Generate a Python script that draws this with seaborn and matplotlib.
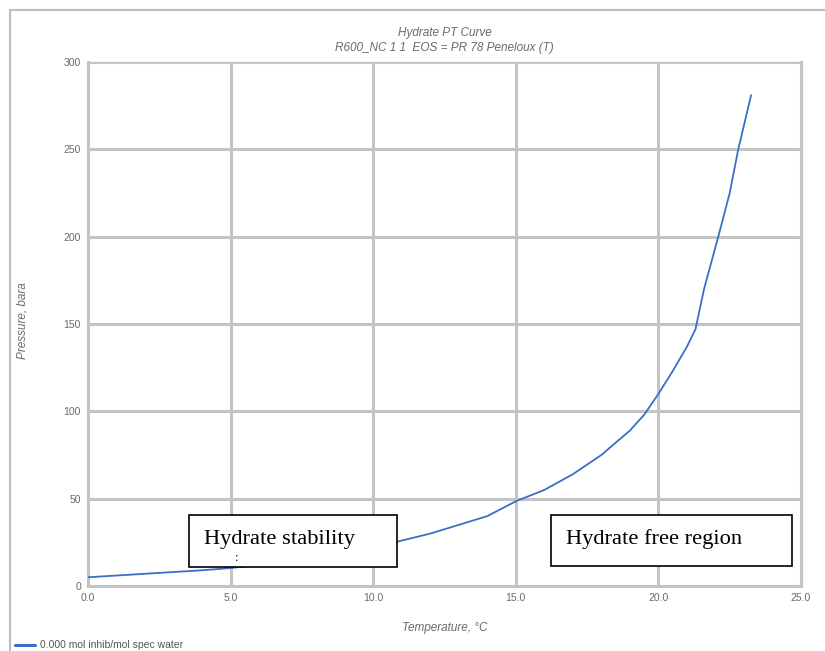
import numpy as np
import pandas as pd
import seaborn as sns
import matplotlib.pyplot as plt
from matplotlib.patches import Rectangle
from matplotlib.ticker import MultipleLocator

# hydrate curve
temperature = [0.0, 2.0, 4.0, 5.0, 6.0, 8.0, 10.0, 11.0, 12.0, 14.0, 15.0, 16.0, 17.0,
               18.0, 19.0, 19.5, 20.0, 20.5, 21.0, 21.3, 21.6, 22.1, 22.5, 22.8, 23.25]
pressure = [5.0, 7.0, 9.0, 10.3, 12.0, 16.0, 22.0, 26.0, 30.0, 40.0, 48.5, 55.0, 64.0,
            75.0, 89.0, 98.0, 110.0, 123.0, 137.0, 147.0, 170.0, 200.0, 225.0, 250.0, 281.0]
series_name = "0.000 mol inhib/mol spec water"

title_lines = ["Hydrate PT Curve", "R600_NC 1 1  EOS = PR 78 Peneloux (T)"]
x_label = "Temperature, \u00b0C"
y_label = "Pressure, bara"
region_labels = ["Hydrate stability", "Hydrate free region"]

df = pd.DataFrame({"T": temperature, "P": pressure, "series": series_name})

sns.set_style("white")
plt.rcParams["font.family"] = ["Liberation Sans", "DejaVu Sans"]

grey = "#c4c4c4"
text_grey = "#6a6a6a"

fig = plt.figure(figsize=(8.25, 6.51), dpi=100)
ax = fig.add_axes([88 / 825, 1 - 586 / 651, (801 - 88) / 825, (586 - 62) / 651])

sns.lineplot(data=df, x="T", y="P", color="#3b6fc6", linewidth=1.3, ax=ax,
             sort=False, legend=False, zorder=3)

ax.set_xlim(0, 25)
ax.set_ylim(0, 300)
ax.xaxis.set_major_locator(MultipleLocator(5))
ax.xaxis.set_minor_locator(MultipleLocator(0.5))
ax.yaxis.set_major_locator(MultipleLocator(50))
ax.yaxis.set_minor_locator(MultipleLocator(5))
ax.set_xticklabels([f"{v:.1f}" for v in ax.get_xticks()])
ax.set_yticklabels([f"{v:.0f}" for v in ax.get_yticks()])

ax.grid(True, which="major", color=grey, linewidth=2.2, zorder=0)
for side in ["left", "bottom", "right"]:
    ax.spines[side].set_color(grey)
    ax.spines[side].set_linewidth(2.2)
ax.spines["top"].set_color(grey)
ax.spines["top"].set_linewidth(1.0)

ax.tick_params(which="major", direction="out", length=3, width=1.2, color=grey,
               labelsize=7.5, labelcolor=text_grey, pad=2)
ax.tick_params(axis="y", which="minor", direction="in", length=6, width=1.2, color=grey)
ax.tick_params(axis="x", which="minor", direction="in", length=4, width=1.2, color=grey)

ax.set_xlabel(x_label, fontsize=8.5, style="italic", color=text_grey, labelpad=14)
ax.set_ylabel(y_label, fontsize=8.5, style="italic", color=text_grey)
ax.yaxis.set_label_coords(-0.084, 0.506)
ax.set_title("\n".join(title_lines), fontsize=8.5, style="italic", color=text_grey,
             pad=8, linespacing=1.3)

# region annotation boxes
boxes = [(3.54, 10.9, 10.83 - 3.54, 40.6 - 10.9), (16.23, 11.4, 24.68 - 16.23, 40.6 - 11.4)]
for (bx, by, bw, bh), label in zip(boxes, region_labels):
    ax.add_patch(Rectangle((bx, by), bw, bh, facecolor="white", edgecolor="black",
                           linewidth=1.2, zorder=4))
    ax.text(bx + 0.52, by + bh - 8.3, label, fontsize=16.2, family="Liberation Serif",
            color="black", va="top", ha="left", zorder=5)
ax.text(5.2, 16.0, ":", fontsize=9, family="Liberation Serif", color="black",
        ha="center", va="center", zorder=5)

# outer chart frame
fig.patches.append(Rectangle((10 / 825, -0.1), 1.2, 1 - 10 / 651 + 0.1, transform=fig.transFigure,
                             fill=False, edgecolor="#bdbdbd", linewidth=1.5))

# legend at the bottom-left
fig.add_artist(plt.Line2D([15 / 825, 35 / 825], [1 - 645 / 651] * 2, color="#3b6fc6",
                          linewidth=2.2, transform=fig.transFigure))
fig.text(40 / 825, 1 - 645 / 651, series_name, fontsize=7.5, color="#555555", va="center")

fig.savefig("out.png", dpi=100)
